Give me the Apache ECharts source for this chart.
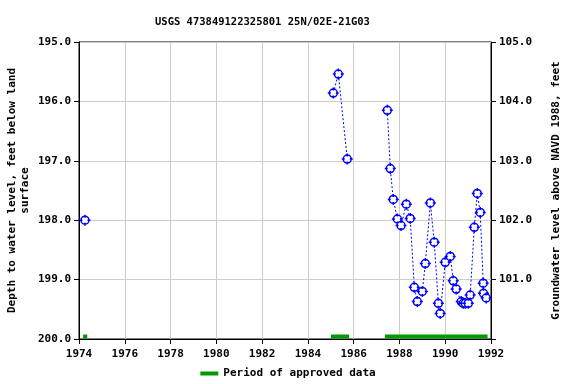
<!DOCTYPE html>
<html><head><meta charset="utf-8">
<script src="https://cdn.jsdelivr.net/npm/echarts@6/dist/echarts.min.js"></script>
<style>html,body{margin:0;padding:0;background:#fff}#c{width:576px;height:384px}</style>
</head><body><div id="c"></div>
<script>
// Measurement dates (decimal years); null marks a gap in the line
const years = [1974.26, null, 1985.11, 1985.33, 1985.72, null,
  1987.47, 1987.60, 1987.73, 1987.91, 1988.07, 1988.30, 1988.47, 1988.65, 1988.78, 1989.00,
  1989.13, 1989.35, 1989.52, 1989.70, 1989.78, 1990.00, 1990.22, 1990.35, 1990.48, 1990.70,
  1990.79, 1990.88, 1991.01, 1991.09, 1991.27, 1991.40, 1991.53, 1991.66, 1991.67, 1991.79];
// Depth to water level, feet below land surface
const depths = [198.00, null, 195.86, 195.54, 196.97, null,
  196.15, 197.13, 197.65, 197.98, 198.09, 197.73, 197.97, 199.13, 199.37, 199.20,
  198.73, 197.71, 198.37, 199.40, 199.57, 198.71, 198.61, 199.02, 199.16, 199.37,
  199.40, 199.40, 199.40, 199.26, 198.12, 197.55, 197.87, 199.06, 199.23, 199.31];
// Approved data periods [start, end]
const approvedPeriods = [[1974.18, 1974.36], [1985.01, 1985.80], [1987.37, 1991.85]];
const approvedLevel = 199.96;
const xTicks = [1974, 1976, 1978, 1980, 1982, 1984, 1986, 1988, 1990, 1992];
const datumOffset = 300; // elevation = 300 - depth

const mono = '"DejaVu Sans Mono", "Liberation Mono", monospace';
const points = years.map((y, i) => (y === null ? [null, null] : [y, depths[i]]));
const approved = [];
approvedPeriods.forEach((p, i) => {
  if (i > 0) approved.push([null, null]);
  approved.push([p[0], approvedLevel], [p[1], approvedLevel]);
});
const markerPath = 'path://M0,-4A4,4 0 1,1 0,4A4,4 0 1,1 0,-4Z M0,-5.5L0,-2.5M0,2.5L0,5.5M-5.5,0L-2.5,0M2.5,0L5.5,0';

const chart = echarts.init(document.getElementById('c'), null, {renderer: 'canvas'});
chart.setOption({
  animation: false,
  backgroundColor: '#fff',
  title: {
    text: 'USGS 473849122325801 25N/02E-21G03',
    left: 150, top: 12,
    textStyle: {fontFamily: mono, fontSize: 10.5, fontWeight: 'bold', color: '#000'}
  },
  grid: {left: 79, right: 85, top: 42, bottom: 45, show: true, borderColor: '#000', borderWidth: 1,
    backgroundColor: 'transparent', containLabel: false, outerBoundsMode: 'none'},
  legend: {
    bottom: 0, left: 'center',
    data: [{name: 'Period of approved data', icon: 'rect'}],
    itemWidth: 18, itemHeight: 4,
    textStyle: {fontFamily: mono, fontSize: 11, fontWeight: 'bold', color: '#000'}
  },
  xAxis: {
    type: 'value', min: 1974, max: 1992, interval: 2,
    axisLine: {show: true, lineStyle: {color: '#000'}},
    axisTick: {show: true, inside: false, length: 5, lineStyle: {color: '#000'}},
    axisLabel: {fontFamily: mono, fontSize: 11, fontWeight: 'bold', color: '#000', margin: 10,
      formatter: v => (xTicks.includes(v) ? String(v) : '')},
    splitLine: {show: true, lineStyle: {color: '#cccccc', width: 1}}
  },
  yAxis: [{
    type: 'value', min: 195, max: 200, interval: 1, inverse: true,
    name: 'Depth to water level, feet below land\nsurface',
    nameLocation: 'middle', nameGap: 47, nameRotate: 90, nameMoveOverlap: false,
    nameTextStyle: {fontFamily: mono, fontSize: 11, fontWeight: 'bold', color: '#000', lineHeight: 13},
    axisLine: {show: true, lineStyle: {color: '#000'}},
    axisTick: {show: true, length: 5, lineStyle: {color: '#000'}},
    axisLabel: {fontFamily: mono, fontSize: 11, fontWeight: 'bold', color: '#000', margin: 8,
      formatter: v => v.toFixed(1)},
    splitLine: {show: true, lineStyle: {color: '#cccccc', width: 1}}
  }, {
    type: 'value', min: datumOffset - 200, max: datumOffset - 195, interval: 1,
    name: 'Groundwater level above NAVD 1988, feet',
    nameLocation: 'middle', nameGap: 60, nameRotate: 90,
    nameTextStyle: {fontFamily: mono, fontSize: 11, fontWeight: 'bold', color: '#000'},
    axisLine: {show: true, lineStyle: {color: '#000'}},
    axisTick: {show: true, length: 5, lineStyle: {color: '#000'}},
    axisLabel: {fontFamily: mono, fontSize: 11, fontWeight: 'bold', color: '#000', margin: 8,
      formatter: v => (v === datumOffset - 200 ? '' : v.toFixed(1))},
    splitLine: {show: false}
  }],
  series: [{
    name: 'Depth', type: 'line', data: points, connectNulls: false,
    symbol: markerPath, symbolSize: 11, showSymbol: true,
    lineStyle: {color: '#0000ff', width: 1, type: [2, 2]},
    itemStyle: {color: '#ffffff', borderColor: '#0000ff', borderWidth: 1.5},
    z: 3
  }, {
    name: 'Period of approved data', type: 'line', data: approved, connectNulls: false,
    symbol: 'none', lineStyle: {color: '#009900', width: 4, cap: 'butt'},
    itemStyle: {color: '#009900'}, z: 2
  }]
});
</script></body></html>
